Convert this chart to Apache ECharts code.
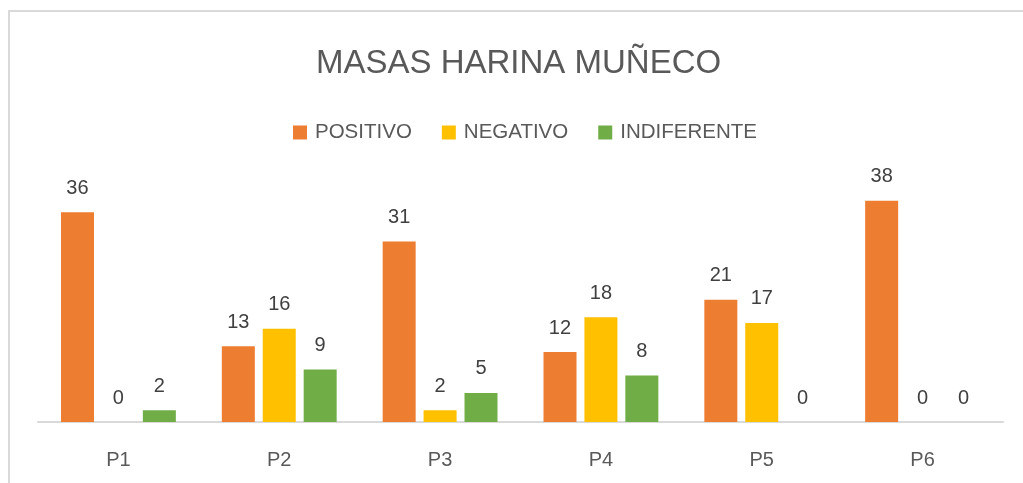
<!DOCTYPE html>
<html>
<head>
<meta charset="utf-8">
<script src="https://cdn.jsdelivr.net/npm/echarts@6/dist/echarts.min.js"></script>
<style>
	html,body{margin:0;padding:0;background:#fff;}
	#app{width:1023px;height:483px;}
</style>
</head>
<body>
<div id="app"></div>
<script>
	// datos
	var categorias = ['P1','P2','P3','P4','P5','P6'];
	var positivo = [36,13,31,12,21,38];
	var negativo = [0,16,2,18,17,0];
	var indiferente = [2,9,5,8,0,0];
	var colores = ['#ED7D31','#FFC000','#70AD47'];

	var fuente = '"Liberation Sans", Arial, sans-serif';
	var chart = echarts.init(document.getElementById('app'));

	function serie(nombre, datos, color){
		return {
			name: nombre,
			type: 'bar',
			data: datos,
			barWidth: 33,
			barGap: '24%',
			itemStyle: { color: color },
			label: {
				show: true, position: 'top', distance: 14,
				fontFamily: fuente, fontSize: 20, color: '#404040',
			},
		};
	}

	chart.setOption({
		animation: false,
		backgroundColor: '#fff',
		graphic: [{
			type: 'rect',
			shape: { x: 9, y: 11, width: 1100, height: 600 },
			style: { fill: 'none', stroke: '#d9d9d9', lineWidth: 2 },
			silent: true,
		}],
		title: {
			text: 'MASAS HARINA MUÑECO',
			left: 311, top: 42,
			textStyle: { fontFamily: fuente, fontSize: 33, fontWeight: 'normal', color: '#595959' },
		},
		legend: {
			top: 117, left: 288,
			itemWidth: 14, itemHeight: 14, itemGap: 30,
			icon: 'rect',
			textStyle: { fontFamily: fuente, fontSize: 20.5, color: '#595959', padding: [0,0,0,3] },
			data: ['POSITIVO','NEGATIVO','INDIFERENTE'],
		},
		grid: { left: 38, right: 20, top: 189, bottom: 61 },
		xAxis: {
			type: 'category',
			data: categorias,
			axisLine: { lineStyle: { color: '#d9d9d9', width: 2 } },
			axisTick: { show: false },
			axisLabel: { fontFamily: fuente, fontSize: 20, color: '#595959', margin: 28 },
		},
		yAxis: {
			type: 'value', min: 0, max: 40,
			show: false,
			splitLine: { show: false },
		},
		series: [
			serie('POSITIVO', positivo, colores[0]),
			serie('NEGATIVO', negativo, colores[1]),
			serie('INDIFERENTE', indiferente, colores[2]),
		],
	});
</script>
</body>
</html>
